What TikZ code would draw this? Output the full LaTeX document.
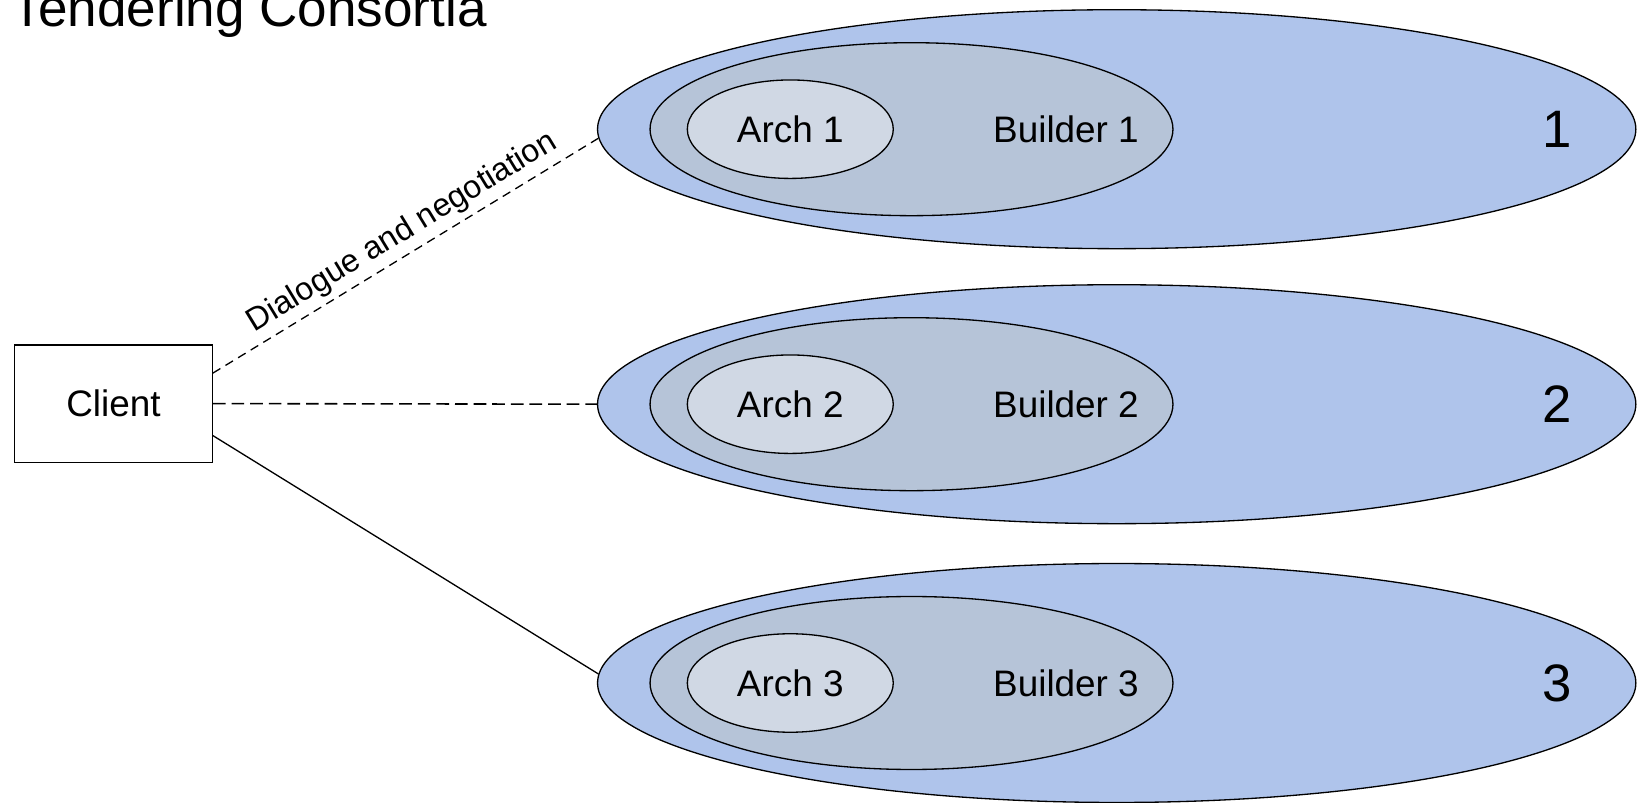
\documentclass[tikz,border=0pt]{standalone}
\usepackage{fontspec}
\setmainfont{Liberation Sans}
\usetikzlibrary{shapes.geometric}

\definecolor{consblue}{RGB}{175,196,235}
\definecolor{buildgray}{RGB}{182,196,216}
\definecolor{archgray}{RGB}{208,216,228}

\begin{document}
\begin{tikzpicture}[x=0.02cm,y=-0.02cm,
    ell/.style={ellipse,draw,line width=0.75pt,inner sep=0pt},
    outerell/.style={ell,fill=consblue,minimum width=20.77cm,minimum height=4.78cm},
    midell/.style={ell,fill=buildgray,minimum width=10.46cm,minimum height=3.46cm},
    archell/.style={ell,fill=archgray,minimum width=4.12cm,minimum height=1.97cm,font=\fontsize{21}{25}\selectfont},
    lbl/.style={font=\fontsize{21}{25}\selectfont},
    numlbl/.style={font=\fontsize{30}{36}\selectfont},
    dlgline/.style={line width=0.75pt,dash pattern=on 5pt off 3.4pt},
    negline/.style={line width=0.9pt,dash pattern=on 7.2pt off 3.4pt},
    plainline/.style={line width=0.75pt}]

% === Canvas ===
\useasboundingbox (0,0) rectangle (1637,803);

% Title
\node[anchor=base west,inner sep=0pt,font=\fontsize{30.2}{36}\selectfont] (title) at (11.5,27) {Tendering Consortia};

% Client box
\node[draw,line width=0.75pt,lbl,minimum width=3.95cm,minimum height=2.35cm] (client) at (113.5,403.6) {Client};

% === CONSORTIUM 1 ===
\begin{scope}[shift={(0,129.2)}]
    \node[outerell] (outer1) at (1116.7,0) {};
    \node[midell] (mid1) at (911.5,0) {};
    \node[archell] (arch1) at (790.3,0) {Arch 1};
    \node[lbl] (bld1) at (1066,0) {Builder 1};
    \node[numlbl] (num1) at (1557,0) {1};
\end{scope}

% === CONSORTIUM 2 ===
\begin{scope}[shift={(0,404.2)}]
    \node[outerell] (outer2) at (1116.7,0) {};
    \node[midell] (mid2) at (911.5,0) {};
    \node[archell] (arch2) at (790.3,0) {Arch 2};
    \node[lbl] (bld2) at (1066,0) {Builder 2};
    \node[numlbl] (num2) at (1557,0) {2};
\end{scope}

% === CONSORTIUM 3 ===
\begin{scope}[shift={(0,683)}]
    \node[outerell] (outer3) at (1116.7,0) {};
    \node[midell] (mid3) at (911.5,0) {};
    \node[archell] (arch3) at (790.3,0) {Arch 3};
    \node[lbl] (bld3) at (1066,0) {Builder 3};
    \node[numlbl] (num3) at (1557,0) {3};
\end{scope}

% Links from the client
\draw[dlgline] ([yshift=0.61cm]client.east) -- node[sloped,above,pos=0.52,font=\fontsize{18.3}{22}\selectfont] (dlg) {Dialogue and negotiation} (outer1.181);
\draw[negline] (client.east) -- (outer2.west);
\draw[plainline] ([yshift=-0.64cm]client.east) -- (outer3.179);

\end{tikzpicture}
\end{document}
